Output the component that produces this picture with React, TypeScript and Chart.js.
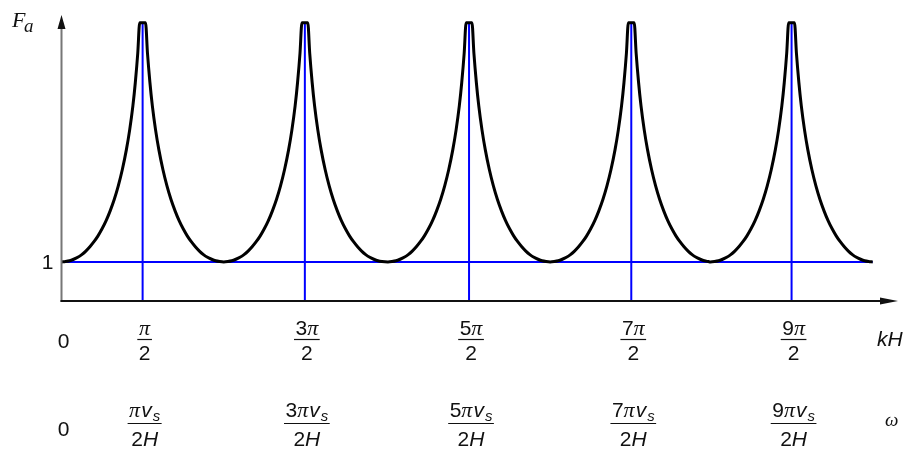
import React, { useEffect, useRef } from "react";
import { Chart, registerables } from "chart.js";

Chart.register(...registerables);

// kH expressed in units of π (one row per period of the curve)
const CURVE_KH: number[] = [
  0, 0.025, 0.05, 0.075, 0.1, 0.125, 0.15, 0.175, 0.2, 0.225, 0.25, 0.275, 0.3, 0.325, 0.35, 0.375, 0.4, 0.42, 0.44, 0.455, 0.47, 0.482,
  0.518, 0.53, 0.545, 0.56, 0.58, 0.6, 0.625, 0.65, 0.675, 0.7, 0.725, 0.75, 0.775, 0.8, 0.825, 0.85, 0.875, 0.9, 0.925, 0.95, 0.975,
  1, 1.025, 1.05, 1.075, 1.1, 1.125, 1.15, 1.175, 1.2, 1.225, 1.25, 1.275, 1.3, 1.325, 1.35, 1.375, 1.4, 1.42, 1.44, 1.455, 1.47, 1.482,
  1.518, 1.53, 1.545, 1.56, 1.58, 1.6, 1.625, 1.65, 1.675, 1.7, 1.725, 1.75, 1.775, 1.8, 1.825, 1.85, 1.875, 1.9, 1.925, 1.95, 1.975,
  2.012, 2.037, 2.062, 2.087, 2.112, 2.137, 2.162, 2.187, 2.212, 2.237, 2.262, 2.287, 2.312, 2.337, 2.362, 2.387, 2.412, 2.432, 2.452, 2.467, 2.482, 2.494,
  2.53, 2.542, 2.557, 2.572, 2.592, 2.612, 2.637, 2.662, 2.687, 2.712, 2.737, 2.762, 2.787, 2.812, 2.837, 2.862, 2.887, 2.912, 2.937, 2.962, 2.987,
  3.012, 3.037, 3.062, 3.087, 3.112, 3.137, 3.162, 3.187, 3.212, 3.237, 3.262, 3.287, 3.312, 3.337, 3.362, 3.387, 3.412, 3.432, 3.452, 3.467, 3.482, 3.494,
  3.53, 3.542, 3.557, 3.572, 3.592, 3.612, 3.637, 3.662, 3.687, 3.712, 3.737, 3.762, 3.787, 3.812, 3.837, 3.862, 3.887, 3.912, 3.937, 3.962, 3.987,
  4, 4.025, 4.05, 4.075, 4.1, 4.125, 4.15, 4.175, 4.2, 4.225, 4.25, 4.275, 4.3, 4.325, 4.35, 4.375, 4.4, 4.42, 4.44, 4.455, 4.47, 4.482,
  4.518, 4.53, 4.545, 4.56, 4.58, 4.6, 4.625, 4.65, 4.675, 4.7, 4.725, 4.75, 4.775, 4.8, 4.825, 4.85, 4.875, 4.9, 4.925, 4.95, 4.975,
  5,
];

const CURVE_FA: number[] = [
  1.0, 1.01, 1.03, 1.07, 1.12, 1.19, 1.28, 1.39, 1.52, 1.67, 1.85, 2.06, 2.31, 2.6, 2.95, 3.37, 3.88, 4.38, 5.0, 5.6, 6.35, 7.13,
  7.13, 6.35, 5.6, 5.0, 4.38, 3.88, 3.37, 2.95, 2.6, 2.31, 2.06, 1.85, 1.67, 1.52, 1.39, 1.28, 1.19, 1.12, 1.07, 1.03, 1.01,
  1.0, 1.01, 1.03, 1.07, 1.12, 1.19, 1.28, 1.39, 1.52, 1.67, 1.85, 2.06, 2.31, 2.6, 2.95, 3.37, 3.88, 4.38, 5.0, 5.6, 6.35, 7.13,
  7.13, 6.35, 5.6, 5.0, 4.38, 3.88, 3.37, 2.95, 2.6, 2.31, 2.06, 1.85, 1.67, 1.52, 1.39, 1.28, 1.19, 1.12, 1.07, 1.03, 1.01,
  1.0, 1.01, 1.03, 1.07, 1.12, 1.19, 1.28, 1.39, 1.52, 1.67, 1.85, 2.06, 2.31, 2.6, 2.95, 3.37, 3.88, 4.38, 5.0, 5.6, 6.35, 7.13,
  7.13, 6.35, 5.6, 5.0, 4.38, 3.88, 3.37, 2.95, 2.6, 2.31, 2.06, 1.85, 1.67, 1.52, 1.39, 1.28, 1.19, 1.12, 1.07, 1.03, 1.01,
  1.0, 1.01, 1.03, 1.07, 1.12, 1.19, 1.28, 1.39, 1.52, 1.67, 1.85, 2.06, 2.31, 2.6, 2.95, 3.37, 3.88, 4.38, 5.0, 5.6, 6.35, 7.13,
  7.13, 6.35, 5.6, 5.0, 4.38, 3.88, 3.37, 2.95, 2.6, 2.31, 2.06, 1.85, 1.67, 1.52, 1.39, 1.28, 1.19, 1.12, 1.07, 1.03, 1.01,
  1.0, 1.01, 1.03, 1.07, 1.12, 1.19, 1.28, 1.39, 1.52, 1.67, 1.85, 2.06, 2.31, 2.6, 2.95, 3.37, 3.88, 4.38, 5.0, 5.6, 6.35, 7.13,
  7.13, 6.35, 5.6, 5.0, 4.38, 3.88, 3.37, 2.95, 2.6, 2.31, 2.06, 1.85, 1.67, 1.52, 1.39, 1.28, 1.19, 1.12, 1.07, 1.03, 1.01,
  1.0,
];

const PEAK_KH: number[] = [0.5, 1.5, 2.512, 3.512, 4.5];
const PEAK_NUMERATOR: string[] = ["", "3", "5", "7", "9"];
const PEAK_LINE_TOP = 7.15;
const UNIT_LINE_KH: number[] = [0, 5];
const UNIT_LINE_FA = 1;
const Y_TICKS: number[] = [1];
const X_MAX = 5.156;
const Y_MAX = 7.33;

const SANS = '"Liberation Sans", Arial, Helvetica, sans-serif';
const SERIF = '"Liberation Serif", "DejaVu Serif", "Times New Roman", serif';

type Part = { t: string; f: string; dy?: number; gap?: number };

function runWidth(ctx: CanvasRenderingContext2D, parts: Part[]) {
  let w = 0;
  for (const p of parts) {
    ctx.font = p.f;
    w += ctx.measureText(p.t).width + (p.gap || 0);
  }
  return w;
}

function drawRun(ctx: CanvasRenderingContext2D, parts: Part[], cx: number, baseline: number) {
  const w = runWidth(ctx, parts);
  let x = cx - w / 2;
  ctx.textAlign = "left";
  ctx.textBaseline = "alphabetic";
  for (const p of parts) {
    ctx.font = p.f;
    ctx.fillText(p.t, x, baseline + (p.dy || 0));
    x += ctx.measureText(p.t).width + (p.gap || 0);
  }
  return w;
}

function drawFraction(
  ctx: CanvasRenderingContext2D,
  num: Part[],
  den: Part[],
  cx: number,
  numBase: number,
  barY: number,
  denBase: number
) {
  const wn = drawRun(ctx, num, cx, numBase);
  const wd = drawRun(ctx, den, cx, denBase);
  const w = Math.max(wn, wd) + 3;
  ctx.beginPath();
  ctx.lineWidth = 1.2;
  ctx.strokeStyle = "#111";
  ctx.moveTo(cx - w / 2, barY);
  ctx.lineTo(cx + w / 2, barY);
  ctx.stroke();
}

const decorPlugin = {
  id: "decor",
  afterDatasetsDraw(chart: any) {
    const ctx: CanvasRenderingContext2D = chart.ctx;
    const xs = chart.scales.x;
    const ys = chart.scales.y;
    const x0 = xs.getPixelForValue(0);
    const y0 = ys.getPixelForValue(0);
    const yTop = ys.getPixelForValue(Y_MAX);
    const xRight = xs.getPixelForValue(X_MAX);
    ctx.save();

    // y axis
    ctx.beginPath();
    ctx.strokeStyle = "#777";
    ctx.lineWidth = 2;
    ctx.moveTo(x0, y0 + 1);
    ctx.lineTo(x0, yTop + 10);
    ctx.stroke();
    ctx.beginPath();
    ctx.fillStyle = "#111";
    ctx.moveTo(x0, yTop);
    ctx.lineTo(x0 - 4, yTop + 14);
    ctx.lineTo(x0 + 4, yTop + 14);
    ctx.closePath();
    ctx.fill();

    // x axis
    ctx.beginPath();
    ctx.strokeStyle = "#111";
    ctx.lineWidth = 2;
    ctx.moveTo(x0 - 1, y0);
    ctx.lineTo(xRight - 12, y0);
    ctx.stroke();
    ctx.beginPath();
    ctx.moveTo(xRight, y0);
    ctx.lineTo(xRight - 18, y0 - 3.5);
    ctx.lineTo(xRight - 18, y0 + 3.5);
    ctx.closePath();
    ctx.fill();

    ctx.fillStyle = "#111";
    // y tick label
    ctx.font = `21px ${SANS}`;
    ctx.textAlign = "right";
    ctx.textBaseline = "middle";
    for (const v of Y_TICKS) {
      ctx.fillText(String(v), x0 - 8, ys.getPixelForValue(v) + 1);
    }

    // y title F_a
    ctx.textAlign = "left";
    ctx.textBaseline = "alphabetic";
    ctx.font = `italic 22px ${SERIF}`;
    ctx.fillText("F", 12, 27);
    ctx.font = `italic 19px ${SERIF}`;
    ctx.fillText("a", 24, 32);

    // zero labels
    ctx.font = `21px ${SANS}`;
    ctx.textAlign = "center";
    ctx.fillText("0", x0 + 2, y0 + 47);
    ctx.fillText("0", x0 + 2, y0 + 135);

    const big = `21px ${SANS}`;
    const bigIt = `italic 21px ${SANS}`;
    const pi = `italic 22px ${SERIF}`;
    const sub = `italic 15px ${SANS}`;

    PEAK_KH.forEach((k, i) => {
      const cx = xs.getPixelForValue(k) + 2;
      const n = PEAK_NUMERATOR[i];
      const num1: Part[] = [];
      if (n) num1.push({ t: n, f: big });
      num1.push({ t: "π", f: pi });
      drawFraction(ctx, num1, [{ t: "2", f: big }], cx, y0 + 34, y0 + 38.5, y0 + 59);

      const num2: Part[] = [];
      if (n) num2.push({ t: n, f: big });
      num2.push({ t: "π", f: pi, gap: 1 });
      num2.push({ t: "v", f: bigIt, gap: 1 });
      num2.push({ t: "s", f: sub, dy: 4 });
      drawFraction(
        ctx,
        num2,
        [
          { t: "2", f: big },
          { t: "H", f: bigIt },
        ],
        cx,
        y0 + 116,
        y0 + 122.5,
        y0 + 145
      );
    });

    // axis variable labels
    ctx.textAlign = "left";
    ctx.font = bigIt;
    ctx.fillText("kH", 877, y0 + 45);
    ctx.font = `italic 19px ${SERIF}`;
    ctx.fillText("ω", 885, y0 + 125);

    ctx.restore();
  },
};

export default function App() {
  const ref = useRef<HTMLCanvasElement | null>(null);

  useEffect(() => {
    if (!ref.current) return;
    const curve = CURVE_KH.map((k, i) => ({ x: k, y: CURVE_FA[i] }));
    const unitLine = UNIT_LINE_KH.map((k) => ({ x: k, y: UNIT_LINE_FA }));
    const peakLines = PEAK_KH.map((k) => ({
      data: [
        { x: k, y: 0 },
        { x: k, y: PEAK_LINE_TOP },
      ],
      borderColor: "#0000ff",
      borderWidth: 2,
      pointRadius: 0,
      fill: false,
      order: 2,
      clip: false as any,
    }));

    const chart = new Chart(ref.current, {
      type: "line",
      data: {
        datasets: [
          {
            data: curve,
            borderColor: "#000",
            borderWidth: 3,
            pointRadius: 0,
            fill: false,
            cubicInterpolationMode: "monotone",
            order: 0,
            clip: false as any,
          },
          {
            data: unitLine,
            borderColor: "#0000ff",
            borderWidth: 2,
            pointRadius: 0,
            fill: false,
            order: 1,
            clip: false as any,
          },
          ...peakLines,
        ] as any,
      },
      options: {
        animation: false,
        responsive: false,
        events: [],
        layout: { padding: { left: 61.5, right: 12, top: 15, bottom: 148 } },
        plugins: { legend: { display: false }, tooltip: { enabled: false } },
        scales: {
          x: { type: "linear", min: 0, max: X_MAX, display: false },
          y: { type: "linear", min: 0, max: Y_MAX, display: false },
        },
      },
      plugins: [decorPlugin],
    });
    return () => chart.destroy();
  }, []);

  return (
    <div style={{ position: "fixed", left: 0, top: 0, width: 910, height: 449, background: "#fff" }}>
      <canvas ref={ref} width={910} height={449} style={{ width: 910, height: 449, display: "block" }} />
    </div>
  );
}
